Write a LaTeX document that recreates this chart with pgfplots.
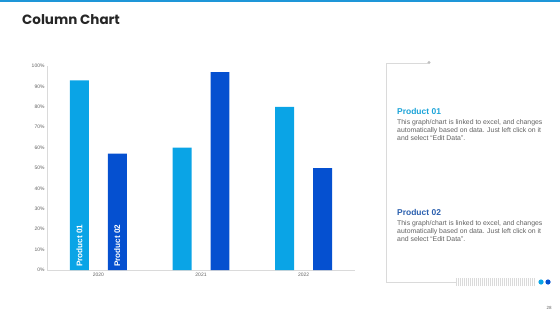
\documentclass[border=0pt]{standalone}
\usepackage{fontspec}
\setmainfont{Liberation Sans}
\newfontfamily\titlefont{Poppins}
\usepackage{pgfplots}
\pgfplotsset{compat=1.18}
\definecolor{pone}{HTML}{0AA4E6}
\definecolor{ptwo}{HTML}{0550D0}
\definecolor{topbar}{HTML}{1E96D8}
\definecolor{txtgray}{HTML}{626262}
\definecolor{linegray}{HTML}{DADADA}
\definecolor{hone}{HTML}{1BA3D8}
\definecolor{htwo}{HTML}{2A5FAE}
\begin{document}
\begin{tikzpicture}[x=1bp,y=1bp]
\useasboundingbox (0,0) rectangle (560,315);
% top bar
\fill[topbar] (0,313) rectangle (560,315);
% title
\node[anchor=base west,inner sep=0pt,text=black!85] at (22,291) {\titlefont\bfseries\fontsize{13.5}{15}\selectfont Column Chart};
% chart
\begin{axis}[
  at={(47bp,45bp)}, anchor=south west,
  scale only axis, width=308bp, height=204bp,
  xmin=-0.5, xmax=2.5, ymin=0, ymax=100,
  xtick={0,1,2}, xticklabels={2020,2021,2022},
  ytick={0,10,...,100},
  yticklabel={\pgfmathprintnumber{\tick}\%},
  /pgf/number format/assume math mode=true,
  tick style={draw=none},
  axis x line*=bottom, axis y line*=left,
  axis line style={linegray, line width=0.6pt, -},
  ticklabel style={font=\fontsize{5}{6}\selectfont, text=txtgray},
  xticklabel style={yshift=1pt},
  yticklabel style={xshift=1pt},
  clip=false,
]
\addplot[ybar, bar width=0.185, bar shift=-0.185, fill=pone, draw=none] coordinates {(0,93) (1,60) (2,80)};
\addplot[ybar, bar width=0.185, bar shift=0.185, fill=ptwo, draw=none] coordinates {(0,57) (1,97) (2,50)};
\node[rotate=90, anchor=west, text=white, inner sep=0pt, font=\bfseries\fontsize{8.2}{9}\selectfont] at (axis cs:-0.185,1.5) {Product 01};
\node[rotate=90, anchor=west, text=white, inner sep=0pt, font=\bfseries\fontsize{8.2}{9}\selectfont] at (axis cs:0.185,1.5) {Product 02};
\end{axis}
% right panel frame
\draw[linegray, line width=0.6pt] (428,252) -- (386,252) -- (386,33) -- (456,33);
\fill[gray!50] (429,252.5) circle (1.6);
\foreach \i in {0,...,39} {\draw[linegray, line width=0.5pt] ({456+2*\i},29) -- ({456+2*\i},37);}
\fill[pone] (541,33) circle (2.6);
\fill[ptwo] (548,33) circle (2.6);
% texts
\node[anchor=base west, inner sep=0pt, text=hone] at (397,201) {\bfseries\fontsize{8.5}{10}\selectfont Product 01};
\node[anchor=north west, inner sep=0pt, text=txtgray, align=left, font=\fontsize{6.9}{8}\selectfont] at (397,196) {This graph/chart is linked to excel, and changes\\automatically based on data. Just left click on it\\and select ``Edit Data''.};
\node[anchor=base west, inner sep=0pt, text=htwo] at (397,100) {\bfseries\fontsize{8.5}{10}\selectfont Product 02};
\node[anchor=north west, inner sep=0pt, text=txtgray, align=left, font=\fontsize{6.9}{8}\selectfont] at (397,95) {This graph/chart is linked to excel, and changes\\automatically based on data. Just left click on it\\and select ``Edit Data''.};
\node[text=txtgray, inner sep=0pt] at (549,7) {\fontsize{4.5}{5}\selectfont 28};
\end{tikzpicture}
\end{document}
